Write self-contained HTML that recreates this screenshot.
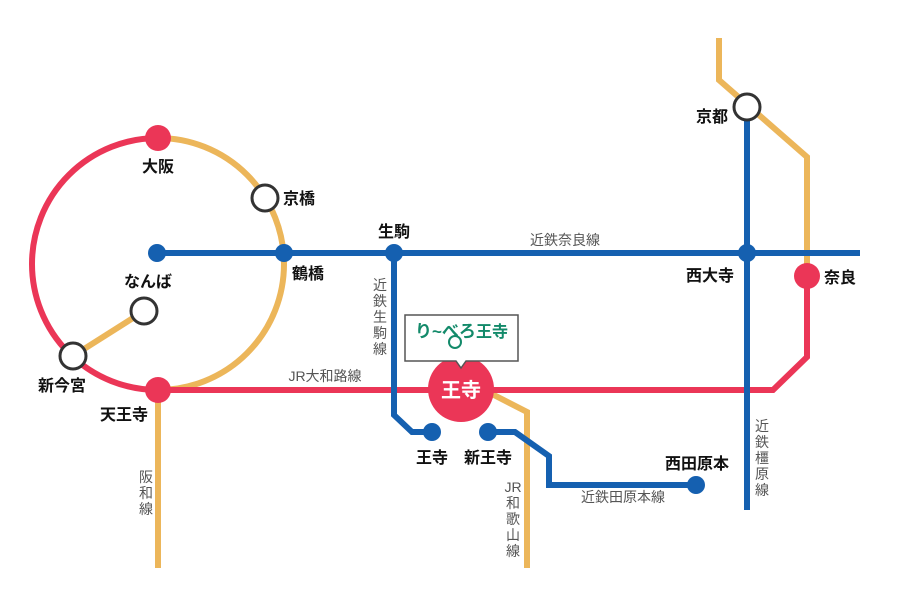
<!DOCTYPE html>
<html><head><meta charset="utf-8"><style>
html,body{margin:0;padding:0;background:#fff;}
svg{display:block;}
text{font-family:"Liberation Sans","Noto Sans CJK JP",sans-serif;}
.b{font-size:16px;font-weight:bold;fill:#111;}
.g{font-size:14px;fill:#555;}
</style></head><body>
<svg width="900" height="600" viewBox="0 0 900 600" xmlns="http://www.w3.org/2000/svg">
<g fill="none" stroke-width="6">
<path d="M158,138 A126,126 0 0 1 158,390" stroke="#ecb65a"/>
<path d="M73,356 L144,311" stroke="#ecb65a"/>
<path d="M158,390 L158,568" stroke="#ecb65a"/>
<path d="M719,38 L719,80 L807,157 L807,276" stroke="#ecb65a"/>
<path d="M490,393 L527,412 L527,568" stroke="#ecb65a"/>
<path d="M158,138 A126,126 0 0 0 158,390" stroke="#eb3657"/>
<path d="M158,390 L773,390 L807,357 L807,276" stroke="#eb3657"/>
<path d="M157,253 L860,253" stroke="#1560b0"/>
<path d="M747,107 L747,510" stroke="#1560b0"/>
<path d="M394,253 L394,415 L412,432 L432,432" stroke="#1560b0"/>
<path d="M488,432 L515,432 L549,456 L549,485 L696,485" stroke="#1560b0"/>
</g>
<g fill="#eb3657">
<circle cx="158" cy="138" r="13"/>
<circle cx="158" cy="390" r="13"/>
<circle cx="807" cy="276" r="13"/>
<circle cx="461" cy="389" r="33"/>
</g>
<g fill="#1560b0">
<circle cx="157" cy="253" r="9"/>
<circle cx="284" cy="253" r="9"/>
<circle cx="394" cy="253" r="9"/>
<circle cx="747" cy="253" r="9"/>
<circle cx="432" cy="432" r="9"/>
<circle cx="488" cy="432" r="9"/>
<circle cx="696" cy="485" r="9"/>
</g>
<g fill="#fff" stroke="#333" stroke-width="3">
<circle cx="265" cy="198" r="13"/>
<circle cx="144" cy="311" r="13"/>
<circle cx="73" cy="356" r="13"/>
<circle cx="747" cy="107" r="13"/>
</g>
<path d="M405,315 L518,315 L518,361 L466,361 L461,368 L456,361 L405,361 Z" fill="#fff" stroke="#555" stroke-width="1.5"/>
<text x="415" y="337" font-size="17" fill="#138a6a" font-weight="bold">り~べろ</text>
<text x="476" y="337" font-size="16" fill="#138a6a" font-weight="bold">王寺</text>
<circle cx="455" cy="342" r="6" fill="none" stroke="#138a6a" stroke-width="2"/>
<text x="461" y="397" text-anchor="middle" font-size="20" font-weight="bold" fill="#fff">王寺</text>
<text class="b" x="158" y="172" text-anchor="middle">大阪</text>
<text class="b" x="283" y="204">京橋</text>
<text class="b" x="292" y="279">鶴橋</text>
<text class="b" x="148" y="287" text-anchor="middle">なんば</text>
<text class="b" x="62" y="391" text-anchor="middle">新今宮</text>
<text class="b" x="124" y="420" text-anchor="middle">天王寺</text>
<text class="b" x="394" y="237" text-anchor="middle">生駒</text>
<text class="b" x="432" y="463" text-anchor="middle">王寺</text>
<text class="b" x="488" y="463" text-anchor="middle">新王寺</text>
<text class="b" x="697" y="469" text-anchor="middle">西田原本</text>
<text class="b" x="710" y="281" text-anchor="middle">西大寺</text>
<text class="b" x="824" y="283">奈良</text>
<text class="b" x="712" y="122" text-anchor="middle">京都</text>
<text class="g" x="565" y="245" text-anchor="middle">近鉄奈良線</text>
<text class="g" x="325" y="381" text-anchor="middle">JR大和路線</text>
<text class="g" x="623" y="502" text-anchor="middle">近鉄田原本線</text>
<g class="g" text-anchor="middle">
<text x="380" y="290">近</text><text x="380" y="306">鉄</text><text x="380" y="322">生</text><text x="380" y="338">駒</text><text x="380" y="354">線</text>
<text x="146" y="482">阪</text><text x="146" y="498">和</text><text x="146" y="514">線</text>
<text x="513" y="492">JR</text><text x="513" y="508">和</text><text x="513" y="524">歌</text><text x="513" y="540">山</text><text x="513" y="556">線</text>
<text x="762" y="431">近</text><text x="762" y="447">鉄</text><text x="762" y="463">橿</text><text x="762" y="479">原</text><text x="762" y="495">線</text>
</g>
</svg>
</body></html>
